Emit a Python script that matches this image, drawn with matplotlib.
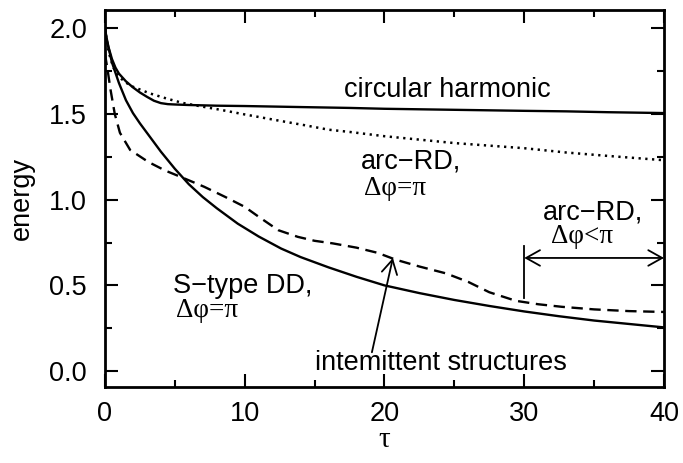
import matplotlib
matplotlib.use("Agg")
import matplotlib.pyplot as plt
from matplotlib.ticker import MultipleLocator

plt.rcParams['font.family'] = ['Liberation Sans', 'DejaVu Sans']
plt.rcParams['font.size'] = 19.5

# circular harmonic (solid, upper)
tau_circ = [0, 0.1, 0.25, 0.5, 0.75, 1, 1.5, 2, 2.5, 3, 3.5, 4, 4.5, 5, 6, 8, 10, 14, 17.5, 20,
            25, 30, 33, 36, 40]
e_circ = [2.00, 1.95, 1.89, 1.82, 1.77, 1.735, 1.69, 1.655, 1.625, 1.60, 1.577, 1.563, 1.557,
          1.555, 1.552, 1.548, 1.546, 1.54, 1.535, 1.53, 1.524, 1.518, 1.515, 1.51, 1.505]

# arc-RD, dphi=pi (dotted)
tau_arc = [0, 0.15, 0.3, 0.6, 1.0, 1.8, 3.2, 4.4, 5.5, 6.8, 8.2, 10, 12.5, 14.3, 16, 17.5, 20,
           25, 30, 33, 36, 40]
e_arc = [2.00, 1.91, 1.85, 1.77, 1.715, 1.665, 1.62, 1.59, 1.565, 1.545, 1.525, 1.497, 1.46,
         1.434, 1.408, 1.395, 1.37, 1.33, 1.30, 1.275, 1.255, 1.23]

# S-type DD, dphi=pi (solid, lower)
tau_sdd = [0, 0.1, 0.5, 1.0, 1.5, 2.0, 2.5, 3.0, 3.5, 4, 5, 6, 7, 8, 9.5, 11, 12.6, 14, 16, 18,
           20, 22.5, 25, 27.5, 30, 32.5, 35, 37.5, 40]
e_sdd = [2.00, 1.94, 1.80, 1.68, 1.58, 1.505, 1.445, 1.39, 1.335, 1.28, 1.18, 1.09, 1.015, 0.95,
         0.86, 0.785, 0.715, 0.665, 0.605, 0.55, 0.50, 0.455, 0.415, 0.38, 0.348, 0.32, 0.295,
         0.275, 0.255]

# intermittent structures (dashed)
tau_int = [0, 0.2, 0.4, 0.7, 1.07, 1.8, 3.1, 4.3, 5.5, 7.1, 8.6, 10, 11, 12.4, 13.8, 15, 16.3,
           18, 19.5, 20.8, 22.5, 24.4, 26, 27.5, 29.4, 31, 32.7, 35, 37.5, 40]
e_int = [1.85, 1.75, 1.64, 1.50, 1.39, 1.29, 1.22, 1.17, 1.13, 1.075, 1.016, 0.958, 0.90, 0.822,
         0.783, 0.76, 0.745, 0.72, 0.69, 0.65, 0.61, 0.57, 0.52, 0.46, 0.41, 0.39, 0.375, 0.36,
         0.35, 0.345]

fig = plt.figure(figsize=(6.83, 4.63), dpi=100)
ax = fig.add_axes([0.1537, 0.164, 0.8185, 0.814])

lw = 1.7
ax.plot(tau_circ, e_circ, color='black', lw=lw)
ax.plot(tau_arc, e_arc, color='black', lw=1.8, linestyle=(0, (0.9, 1.8)))
ax.plot(tau_sdd, e_sdd, color='black', lw=lw)
ax.plot(tau_int, e_int, color='black', lw=lw, linestyle=(0, (4.8, 2.8)))

ax.set_xlim(0, 40)
ax.set_ylim(-0.093, 2.105)
ax.xaxis.set_major_locator(MultipleLocator(10))
ax.xaxis.set_minor_locator(MultipleLocator(5))
ax.yaxis.set_major_locator(MultipleLocator(0.5))
ax.yaxis.set_minor_locator(MultipleLocator(0.25))
ax.yaxis.set_major_formatter(plt.FormatStrFormatter('%.1f'))
ax.tick_params(which='both', direction='in', top=True, right=True, width=1.5)
ax.tick_params(which='major', length=9.5)
ax.tick_params(which='minor', length=5)
ax.tick_params(axis='y', which='major', pad=13)
ax.tick_params(axis='x', which='major', pad=10)
for s in ax.spines.values():
    s.set_linewidth(2.0)

ax.set_ylabel('energy')
ax.yaxis.set_label_coords(-0.125, 0.5)
ax.set_xlabel('τ', family=['Liberation Serif', 'DejaVu Serif'], fontsize=21)
ax.xaxis.set_label_coords(0.5, -0.106)

greek = ['Liberation Serif', 'DejaVu Serif']
ax.text(17.1, 1.60, 'circular harmonic')
ax.text(18.3, 1.18, 'arc−RD,')
ax.text(18.5, 1.026, 'Δφ=π', family=greek)
ax.text(31.3, 0.885, 'arc−RD,')
ax.text(31.9, 0.745, 'Δφ<π', family=greek)
ax.text(4.86, 0.455, 'S−type DD,')
ax.text(5.1, 0.315, 'Δφ=π', family=greek)
ax.text(15.0, 0.005, 'intemittent structures')

ax.annotate('', xy=(20.6, 0.66), xytext=(19.1, 0.11),
            arrowprops=dict(arrowstyle='->,head_length=0.5,head_width=0.28',
                            lw=1.3, color='black', shrinkA=0, shrinkB=0, mutation_scale=20))
ax.annotate('', xy=(40, 0.66), xytext=(30, 0.66),
            arrowprops=dict(arrowstyle='<->,head_length=0.5,head_width=0.28',
                            lw=1.3, color='black', shrinkA=0, shrinkB=0, mutation_scale=20))
ax.plot([30, 30], [0.425, 0.73], color='black', lw=1.3)

fig.text(0.161, -0.001, 'Fig. 2', family=greek, style='italic', weight='bold',
         fontsize=18, va='top')

fig.savefig('out.png', dpi=100)
